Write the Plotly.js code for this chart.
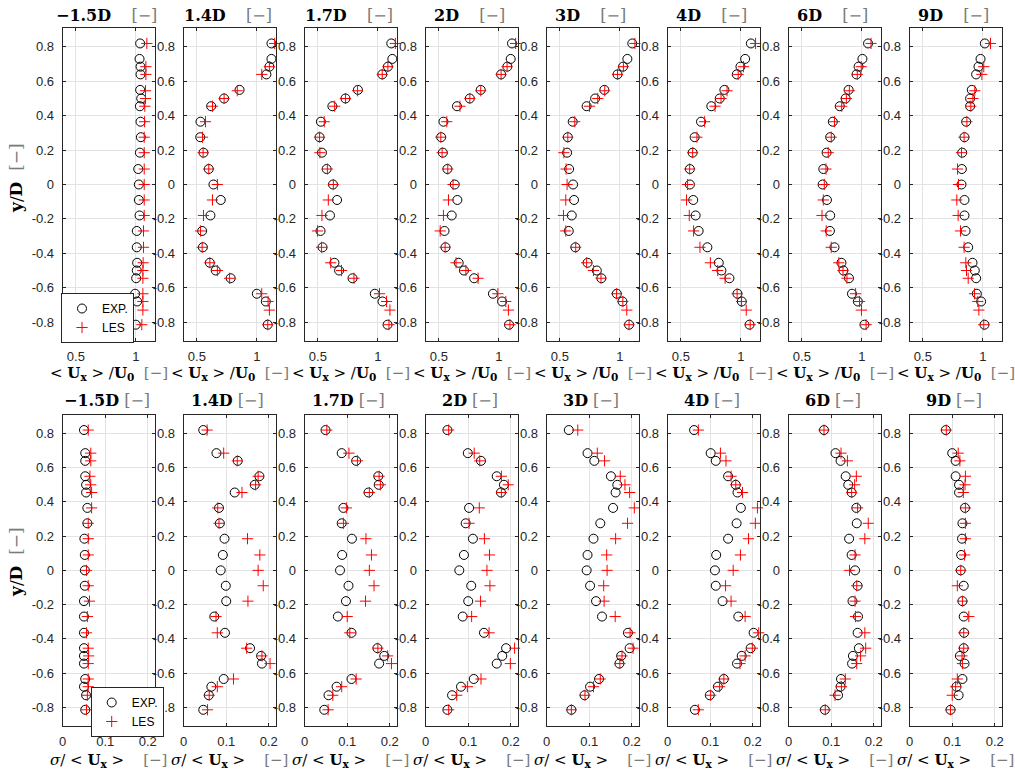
<!DOCTYPE html>
<html><head><meta charset="utf-8">
<script src="https://cdn.plot.ly/plotly-3.0.1.min.js"></script>
<style>body{margin:0;background:#fff}#plot{width:1015px;height:773px}</style>
</head><body><div id="plot"></div>
<script>
// ---- data ----
const stations = ["\u22121.5D","1.4D","1.7D","2D","3D","4D","6D","9D"];
const yTicks = [-0.8,-0.6,-0.4,-0.2,0,0.2,0.4,0.6,0.8];
const yTickText = ["-0.8","-0.6","-0.4","-0.2","0","0.2","0.4","0.6","0.8"];
const xTicksTop = [0.5,1];
const xTickTextTop = ["0.5","1"];
const xTicksBot = [0,0.1,0.2];
const xTickTextBot = ["0","0.1","0.2"];

const yUexp = [0.82,0.73,0.685,0.64,0.55,0.50,0.455,0.365,0.275,0.185,0.09,0,-0.09,-0.18,-0.27,-0.365,-0.455,-0.50,-0.545,-0.635,-0.68,-0.815];
const yUles = [0.82,0.685,0.64,0.545,0.50,0.455,0.365,0.275,0.185,0.09,0,-0.09,-0.18,-0.27,-0.365,-0.455,-0.50,-0.545,-0.635,-0.68,-0.73,-0.815];
const ySig  = [0.82,0.685,0.64,0.55,0.50,0.455,0.365,0.275,0.185,0.09,0,-0.09,-0.18,-0.27,-0.365,-0.455,-0.50,-0.545,-0.635,-0.68,-0.73,-0.815];

const uExp_m15 = [1.036,1.031,1.039,1.039,1.036,1.045,1.034,1.039,1.042,1.034,1.020,1.025,1.025,1.031,1.008,1.008,1.011,1.008,1.003,0.994,1.011,1.000];
const uLes_m15 = [1.092,1.084,1.084,1.081,1.081,1.075,1.073,1.070,1.070,1.070,1.070,1.070,1.070,1.064,1.064,1.061,1.059,1.059,1.059,1.059,1.059,1.050];
const uExp_14 = [1.122,1.122,1.105,1.080,0.856,0.727,0.619,0.530,0.528,0.555,0.599,0.638,0.699,0.613,0.544,0.550,0.608,0.657,0.782,1.000,1.075,1.091];
const uLes_14 = [1.149,1.105,1.041,0.837,0.727,0.630,0.572,0.547,0.552,0.599,0.671,0.630,0.555,0.530,0.544,0.608,0.671,0.773,1.041,1.094,1.105,1.091];
const uExp_17 = [1.112,1.121,1.084,1.037,0.834,0.730,0.621,0.525,0.514,0.534,0.573,0.626,0.660,0.601,0.522,0.539,0.638,0.677,0.789,0.975,1.039,1.081];
const uLes_17 = [1.146,1.084,1.037,0.831,0.730,0.640,0.553,0.514,0.517,0.579,0.629,0.587,0.534,0.497,0.531,0.607,0.697,0.801,1.014,1.073,1.101,1.093];
const uExp_2 = [1.110,1.099,1.071,1.019,0.849,0.758,0.651,0.538,0.519,0.533,0.571,0.632,0.654,0.607,0.547,0.555,0.665,0.709,0.794,0.951,1.027,1.085];
const uLes_2 = [1.140,1.069,1.019,0.849,0.758,0.676,0.566,0.516,0.527,0.574,0.618,0.580,0.538,0.511,0.552,0.643,0.725,0.827,0.992,1.058,1.080,1.093];
const uExp_3 = [1.104,1.063,1.027,0.981,0.871,0.794,0.723,0.607,0.566,0.560,0.577,0.610,0.618,0.599,0.574,0.629,0.731,0.808,0.846,0.975,1.022,1.077];
const uLes_3 = [1.126,1.030,0.981,0.874,0.816,0.747,0.624,0.566,0.533,0.552,0.560,0.549,0.530,0.549,0.632,0.723,0.780,0.843,0.973,1.025,1.058,1.077];
const uExp_4 = [1.084,1.036,0.997,0.966,0.863,0.824,0.754,0.668,0.615,0.598,0.575,0.575,0.603,0.623,0.648,0.721,0.816,0.838,0.905,0.972,1.008,1.073];
const uLes_4 = [1.123,1.022,0.978,0.885,0.835,0.785,0.698,0.634,0.598,0.573,0.556,0.547,0.570,0.606,0.659,0.746,0.807,0.869,0.969,1.006,1.045,1.078];
const uExp_6 = [1.052,1.005,0.973,0.956,0.890,0.865,0.816,0.758,0.736,0.706,0.679,0.673,0.709,0.736,0.734,0.772,0.830,0.846,0.893,0.918,0.967,1.022];
const uLes_6 = [1.077,0.995,0.962,0.896,0.871,0.832,0.772,0.745,0.720,0.701,0.687,0.679,0.668,0.703,0.745,0.808,0.843,0.876,0.948,0.981,0.997,1.036];
const uExp_9 = [1.017,0.981,0.964,0.944,0.908,0.894,0.894,0.861,0.847,0.828,0.825,0.822,0.847,0.847,0.856,0.878,0.914,0.933,0.944,0.950,0.986,1.014];
const uLes_9 = [1.064,1.008,0.992,0.933,0.917,0.900,0.867,0.844,0.822,0.789,0.797,0.783,0.794,0.814,0.844,0.858,0.864,0.878,0.931,0.958,0.967,1.008];

const sExp_m15 = [0.050,0.053,0.053,0.053,0.055,0.055,0.058,0.058,0.051,0.052,0.052,0.052,0.050,0.050,0.050,0.050,0.050,0.050,0.053,0.050,0.055,0.053];
const sLes_m15 = [0.060,0.066,0.066,0.064,0.066,0.068,0.068,0.060,0.060,0.060,0.056,0.060,0.063,0.058,0.056,0.060,0.061,0.060,0.060,0.060,0.058,0.056];
const sExp_14 = [0.046,0.077,0.127,0.178,0.167,0.120,0.083,0.085,0.096,0.092,0.087,0.099,0.100,0.072,0.097,0.156,0.182,0.184,0.094,0.065,0.059,0.046];
const sLes_14 = [0.055,0.094,0.126,0.175,0.169,0.137,0.080,0.083,0.150,0.179,0.175,0.187,0.151,0.076,0.079,0.148,0.184,0.203,0.117,0.079,0.060,0.056];
const sExp_17 = [0.049,0.087,0.121,0.173,0.174,0.150,0.091,0.087,0.111,0.088,0.083,0.103,0.097,0.078,0.110,0.171,0.187,0.175,0.110,0.075,0.056,0.046];
const sLes_17 = [0.052,0.104,0.124,0.175,0.178,0.152,0.098,0.091,0.144,0.157,0.152,0.163,0.143,0.100,0.106,0.172,0.195,0.204,0.121,0.087,0.066,0.055];
const sExp_2 = [0.051,0.099,0.130,0.167,0.184,0.177,0.102,0.094,0.111,0.090,0.079,0.107,0.100,0.087,0.137,0.189,0.180,0.167,0.113,0.083,0.062,0.051];
const sLes_2 = [0.054,0.114,0.127,0.178,0.194,0.178,0.126,0.102,0.138,0.150,0.144,0.151,0.129,0.108,0.149,0.209,0.218,0.199,0.130,0.098,0.073,0.054];
const sExp_3 = [0.052,0.096,0.112,0.151,0.166,0.162,0.156,0.126,0.110,0.096,0.094,0.102,0.116,0.130,0.191,0.195,0.175,0.171,0.123,0.102,0.089,0.058];
const sLes_3 = [0.073,0.119,0.136,0.173,0.184,0.195,0.206,0.190,0.162,0.141,0.142,0.134,0.135,0.161,0.196,0.203,0.177,0.172,0.126,0.110,0.090,0.058];
const sExp_4 = [0.062,0.101,0.113,0.142,0.160,0.164,0.172,0.162,0.142,0.114,0.111,0.113,0.129,0.166,0.202,0.195,0.174,0.163,0.132,0.118,0.099,0.064];
const sLes_4 = [0.072,0.124,0.137,0.149,0.160,0.176,0.211,0.206,0.190,0.171,0.154,0.136,0.149,0.182,0.214,0.199,0.182,0.170,0.132,0.122,0.101,0.072];
const sExp_6 = [0.083,0.110,0.122,0.134,0.140,0.148,0.159,0.160,0.142,0.148,0.156,0.162,0.150,0.163,0.162,0.165,0.151,0.149,0.123,0.122,0.116,0.085];
const sLes_6 = [0.083,0.123,0.138,0.159,0.155,0.148,0.162,0.187,0.179,0.156,0.143,0.160,0.156,0.157,0.179,0.181,0.169,0.160,0.133,0.124,0.109,0.086];
const sExp_9 = [0.085,0.100,0.108,0.108,0.116,0.116,0.130,0.124,0.123,0.121,0.120,0.127,0.124,0.127,0.128,0.127,0.118,0.129,0.124,0.110,0.115,0.096];
const sLes_9 = [0.086,0.114,0.118,0.131,0.130,0.126,0.131,0.131,0.131,0.129,0.120,0.112,0.124,0.139,0.127,0.127,0.123,0.124,0.112,0.108,0.100,0.096];

const meanExp = [uExp_m15,uExp_14,uExp_17,uExp_2,uExp_3,uExp_4,uExp_6,uExp_9];
const meanLes = [uLes_m15,uLes_14,uLes_17,uLes_2,uLes_3,uLes_4,uLes_6,uLes_9];
const sigExp = [sExp_m15,sExp_14,sExp_17,sExp_2,sExp_3,sExp_4,sExp_6,sExp_9];
const sigLes = [sLes_m15,sLes_14,sLes_17,sLes_2,sLes_3,sLes_4,sLes_6,sLes_9];

// ---- layout geometry ----
const W = 1015, H = 773;
const panelLeft0 = 62.7, panelStep = 121, panelW = 92.3;
const topRowPx = [28.3, 340.7], botRowPx = [415, 725.7];
const axisColor = '#262626', gridColor = '#e3e3e3';
const tickFont = {family: 'Liberation Sans, Arial, sans-serif', size: 13, color: axisColor};
const serif = 'DejaVu Serif, serif';
const NB = '\u00a0';

const traces = [];
const legendFont = {family:'Liberation Sans, Arial, sans-serif', size: 12, color:'#000'};
const layout = {
  width: W, height: H, margin: {l:0, r:0, t:0, b:0},
  paper_bgcolor: '#fff', plot_bgcolor: '#fff',
  showlegend: true, annotations: [],
  legend: {x: 61/W, y: 1-293/H, xanchor:'left', yanchor:'top', bgcolor:'#fff', bordercolor: axisColor, borderwidth: 1,
           font: legendFont, tracegroupgap: 0, itemwidth: 30},
  legend2: {x: 90.7/W, y: 1-687/H, xanchor:'left', yanchor:'top', bgcolor:'#fff', bordercolor: axisColor, borderwidth: 1,
           font: legendFont, tracegroupgap: 0, itemwidth: 30}
};

function axBase() {
  return {showline: true, linecolor: axisColor, linewidth: 1, mirror: 'ticks', ticks: 'inside', ticklen: 3,
          tickcolor: axisColor, showgrid: true, gridcolor: gridColor, gridwidth: 1, zeroline: false,
          tickfont: tickFont, fixedrange: true, tickmode: 'array'};
}

const circle = {symbol: 'circle-open', size: 9, color: '#000', line: {color: '#000', width: 1}};
const plus = {symbol: 'cross-thin-open', size: 8, color: '#ff0000', line: {color: '#ff0000', width: 1}};

for (let row = 0; row < 2; row++) {
  const rp = row === 0 ? topRowPx : botRowPx;
  const yDom = [1 - rp[1]/H, 1 - rp[0]/H];
  for (let k = 0; k < 8; k++) {
    const idx = row*8 + k + 1;
    const xn = idx === 1 ? 'xaxis' : 'xaxis' + idx;
    const yn = idx === 1 ? 'yaxis' : 'yaxis' + idx;
    const xr = idx === 1 ? 'x' : 'x' + idx;
    const yr = idx === 1 ? 'y' : 'y' + idx;
    const left = panelLeft0 + panelStep*k;
    const xa = axBase();
    xa.domain = [left/W, (left+panelW)/W];
    xa.anchor = yr;
    xa.ticklabelstandoff = 4;
    if (row === 0) { xa.range = [0.39, 1.16]; xa.tickvals = xTicksTop; xa.ticktext = xTickTextTop; }
    else { xa.range = [0, 0.217]; xa.tickvals = xTicksBot; xa.ticktext = xTickTextBot; }
    const ya = axBase();
    ya.domain = yDom; ya.anchor = xr;
    ya.range = [-0.908, 0.908]; ya.tickvals = yTicks; ya.ticktext = yTickText;
    ya.ticklabelstandoff = 5;
    layout[xn] = xa; layout[yn] = ya;

    const lg = row === 0 ? 'legend' : 'legend2';
    if (row === 0) {
      traces.push({type:'scatter', mode:'markers', x: meanExp[k], y: yUexp, xaxis: xr, yaxis: yr, name:'EXP.',
        marker: circle, showlegend: k===0, legend: lg, cliponaxis: false, hoverinfo:'skip'});
      traces.push({type:'scatter', mode:'markers', x: meanLes[k], y: yUles, xaxis: xr, yaxis: yr, name:'LES',
        marker: plus, showlegend: k===0, legend: lg, cliponaxis: false, hoverinfo:'skip'});
    } else {
      traces.push({type:'scatter', mode:'markers', x: sigExp[k], y: ySig, xaxis: xr, yaxis: yr, name:'EXP.',
        marker: circle, showlegend: k===0, legend: lg, cliponaxis: false, hoverinfo:'skip'});
      traces.push({type:'scatter', mode:'markers', x: sigLes[k], y: ySig, xaxis: xr, yaxis: yr, name:'LES',
        marker: plus, showlegend: k===0, legend: lg, cliponaxis: false, hoverinfo:'skip'});
    }

    const cx = (left + panelW/2)/W;
    const gap = row === 0 ? NB+NB+NB+NB : NB;
    layout.annotations.push({xref:'paper', yref:'paper', x: cx - 2/W, y: 1 - (row===0 ? 15 : 400)/H,
      xanchor:'center', yanchor:'middle', showarrow:false,
      text: '<b>' + stations[k] + '</b>' + gap + '<span style="color:#7a7a7a">[\u2212]</span>',
      font: {family: serif, size: 16, color: '#000'}});
    const xt = row === 0
      ? '&lt;' + NB + '<b>U</b><sub><b>x</b></sub>' + NB + '&gt;' + NB + '/<b>U</b><sub><b>0</b></sub>' + NB + NB + '<span style="color:#7a7a7a">[\u2212]</span>'
      : '<i>\u03c3</i>/' + NB + '&lt;' + NB + '<b>U</b><sub><b>x</b></sub>' + NB + '&gt;' + NB + NB + NB + NB + '<span style="color:#7a7a7a">[\u2212]</span>';
    layout.annotations.push({xref:'paper', yref:'paper', x: cx, y: 1 - (row===0 ? 373 : 760)/H,
      xanchor:'center', yanchor:'middle', showarrow:false, text: xt,
      font: {family: serif, size: 15, color: '#000'}});
  }
  layout.annotations.push({xref:'paper', yref:'paper', x: 16/W, y: 1 - (row===0 ? 178 : 562)/H,
    xanchor:'center', yanchor:'middle', showarrow:false, textangle: -90,
    text: '<b>y</b>/<b>D</b>' + NB + NB + '<span style="color:#7a7a7a">[\u2212]</span>',
    font: {family: serif, size: 17, color: '#000'}});
}

Plotly.newPlot('plot', traces, layout, {displayModeBar: false, staticPlot: true});
</script>
</body></html>
